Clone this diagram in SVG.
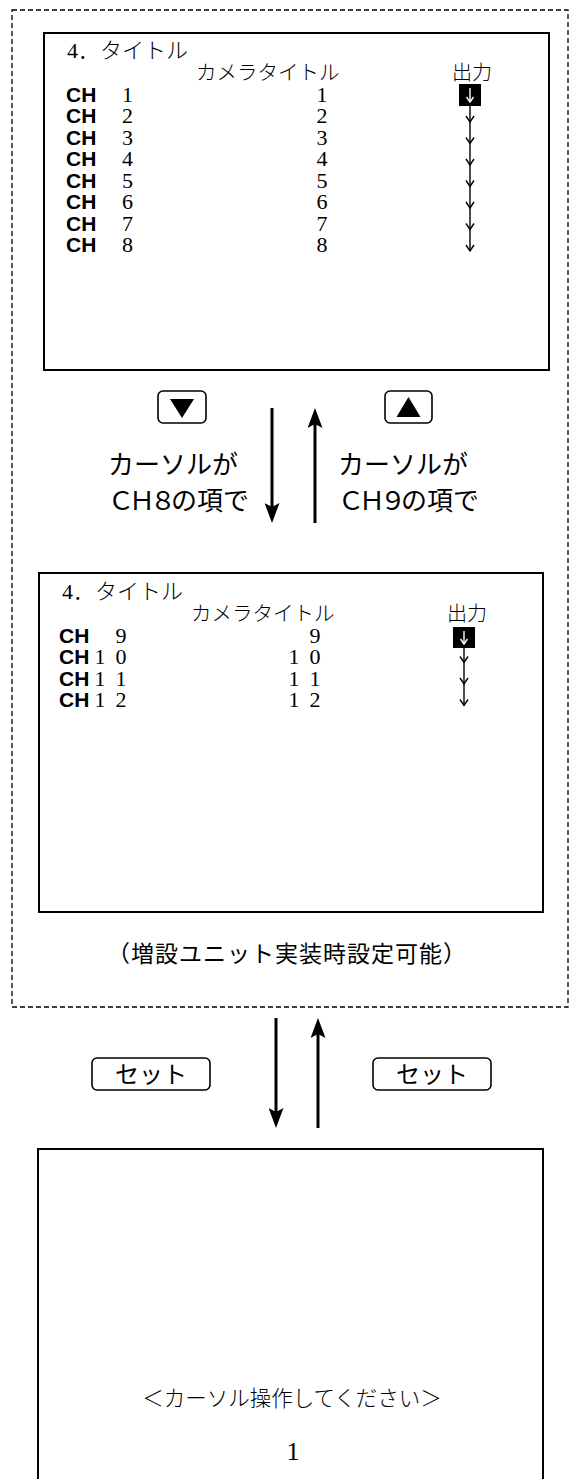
<svg xmlns="http://www.w3.org/2000/svg" xmlns:xlink="http://www.w3.org/1999/xlink" width="576" height="1479" viewBox="0 0 576 1479">
<style>
.scr{fill:none;stroke:#000;stroke-width:2}
.btn{fill:#fff;stroke:#000;stroke-width:1.6}
.jp{font-family:"Noto Sans CJK JP","Noto Sans CJK SC",sans-serif;font-weight:300;fill:#000}
.jpr{font-family:"Noto Sans CJK JP","Noto Sans CJK SC",sans-serif;font-weight:400;fill:#000}
.ch{font-family:"Liberation Sans",Arial,sans-serif;font-weight:bold;font-size:21px;fill:#000}
.num{font-family:"Liberation Serif","Times New Roman",serif;font-size:22px;fill:#000}
.mid{text-anchor:middle}
.conn{stroke:#000;stroke-width:3;fill:none}
.col{stroke:#000;stroke-width:1.4;fill:none}
.colw{stroke:#fff;stroke-width:1.4;fill:none}
</style>
<defs>
<marker id="ah" viewBox="0 0 20 15" refX="5" refY="7.5" markerWidth="20" markerHeight="15" markerUnits="userSpaceOnUse" orient="auto">
<path d="M0,0 L20,7.5 L0,15 L4,7.5 z" fill="#000"/>
</marker>
<path id="chev" d="M-4,-6 L0,0 L4,-6" class="col"/>
<path id="chevw" d="M-3.5,-5 L0,0 L3.5,-5" class="colw"/>
</defs>
<rect id="frame" x="12" y="10" width="556" height="997" fill="none" stroke="#000" stroke-width="1.3" stroke-dasharray="5 3"/>

<g id="screen1">
<rect class="scr" x="44" y="33" width="505" height="337"/>
<text x="67" y="58"><tspan class="num" style="font-size:22px">4</tspan><tspan class="jp" style="font-size:22px">．タイトル</tspan></text>
<text class="jp" x="196" y="80" style="font-size:20.5px">カメラタイトル</text>
<text class="jp" x="452" y="80" style="font-size:20px">出力</text>
<text class="ch" x="66" y="101.5">CH</text><text class="num mid" x="127.5" y="101.5">1</text><text class="num mid" x="322" y="101.5">1</text>
<text class="ch" x="66" y="123">CH</text><text class="num mid" x="127.5" y="123">2</text><text class="num mid" x="322" y="123">2</text>
<text class="ch" x="66" y="144.5">CH</text><text class="num mid" x="127.5" y="144.5">3</text><text class="num mid" x="322" y="144.5">3</text>
<text class="ch" x="66" y="166">CH</text><text class="num mid" x="127.5" y="166">4</text><text class="num mid" x="322" y="166">4</text>
<text class="ch" x="66" y="187.5">CH</text><text class="num mid" x="127.5" y="187.5">5</text><text class="num mid" x="322" y="187.5">5</text>
<text class="ch" x="66" y="209">CH</text><text class="num mid" x="127.5" y="209">6</text><text class="num mid" x="322" y="209">6</text>
<text class="ch" x="66" y="230.5">CH</text><text class="num mid" x="127.5" y="230.5">7</text><text class="num mid" x="322" y="230.5">7</text>
<text class="ch" x="66" y="252">CH</text><text class="num mid" x="127.5" y="252">8</text><text class="num mid" x="322" y="252">8</text>
<rect x="459" y="84" width="22" height="22" fill="#000"/>
<line class="colw" x1="470" y1="88" x2="470" y2="102"/>
<use xlink:href="#chevw" x="470" y="102"/>
<line class="col" x1="470" y1="106" x2="470" y2="250.5"/>
<use xlink:href="#chev" x="470" y="122"/>
<use xlink:href="#chev" x="470" y="143.5"/>
<use xlink:href="#chev" x="470" y="165"/>
<use xlink:href="#chev" x="470" y="186.5"/>
<use xlink:href="#chev" x="470" y="208"/>
<use xlink:href="#chev" x="470" y="229.5"/>
<use xlink:href="#chev" x="470" y="251"/>
</g>

<g id="btn-down">
<rect class="btn" x="158" y="391" width="48" height="32" rx="5"/>
<polygon points="170,399 194,399 182,418" fill="#000"/>
</g>
<g id="btn-up">
<rect class="btn" x="385" y="391" width="47" height="32" rx="5"/>
<polygon points="408.5,397 396.5,417 420.5,417" fill="#000"/>
</g>
<g id="label-down">
<text class="jpr" x="108" y="474" style="font-size:26px">カーソルが</text>
<text class="jpr" x="108" y="510" style="font-size:26px"><tspan letter-spacing="-5">ＣＨ８</tspan>の項で</text>
</g>
<g id="label-up">
<text class="jpr" x="338" y="474" style="font-size:26px">カーソルが</text>
<text class="jpr" x="338" y="510" style="font-size:26px"><tspan letter-spacing="-5">ＣＨ９</tspan>の項で</text>
</g>

<g id="screen2">
<rect class="scr" x="39" y="573" width="504" height="339"/>
<text x="62" y="599"><tspan class="num" style="font-size:22px">4</tspan><tspan class="jp" style="font-size:22px">．タイトル</tspan></text>
<text class="jp" x="191" y="621" style="font-size:20.5px">カメラタイトル</text>
<text class="jp" x="447" y="621" style="font-size:20px">出力</text>
<text class="ch" x="59" y="642.5">CH</text><text class="num mid" x="121" y="642.5">9</text><text class="num mid" x="315" y="642.5">9</text>
<text class="ch" x="59" y="664">CH</text><text class="num mid" x="100" y="664">1</text><text class="num mid" x="121" y="664">0</text><text class="num mid" x="294" y="664">1</text><text class="num mid" x="315" y="664">0</text>
<text class="ch" x="59" y="685.5">CH</text><text class="num mid" x="100" y="685.5">1</text><text class="num mid" x="121" y="685.5">1</text><text class="num mid" x="294" y="685.5">1</text><text class="num mid" x="315" y="685.5">1</text>
<text class="ch" x="59" y="707">CH</text><text class="num mid" x="100" y="707">1</text><text class="num mid" x="121" y="707">2</text><text class="num mid" x="294" y="707">1</text><text class="num mid" x="315" y="707">2</text>
<rect x="453" y="627" width="22" height="21" fill="#000"/>
<line class="colw" x1="464" y1="631" x2="464" y2="644"/>
<use xlink:href="#chevw" x="464" y="644"/>
<line class="col" x1="464" y1="648" x2="464" y2="705"/>
<use xlink:href="#chev" x="464" y="662.5"/>
<use xlink:href="#chev" x="464" y="684"/>
<use xlink:href="#chev" x="464" y="705.5"/>
</g>

<g id="caption">
<text class="jpr mid" x="287" y="962" style="font-size:23px" letter-spacing="1">（増設ユニット実装時設定可能）</text>
</g>

<g id="btn-set-left">
<rect class="btn" x="92" y="1058" width="118" height="32" rx="5"/>
<text class="jpr mid" x="151" y="1083" style="font-size:24px">セット</text>
</g>
<g id="btn-set-right">
<rect class="btn" x="373" y="1058" width="118" height="32" rx="5"/>
<text class="jpr mid" x="432" y="1083" style="font-size:24px">セット</text>
</g>

<g id="screen3">
<rect class="scr" x="38" y="1149" width="505" height="345"/>
<text class="jp mid" x="292" y="1406" style="font-size:21.5px">＜カーソル操作してください＞</text>
<text class="num mid" x="293" y="1460" style="font-size:26px">1</text>
</g>

<g id="connectors">
<line class="conn" x1="272" y1="408" x2="272" y2="508" marker-end="url(#ah)"/>
<line class="conn" x1="315" y1="523" x2="315" y2="423" marker-end="url(#ah)"/>
<line class="conn" x1="276" y1="1018" x2="276" y2="1113" marker-end="url(#ah)"/>
<line class="conn" x1="318" y1="1128" x2="318" y2="1033" marker-end="url(#ah)"/>
</g>
</svg>
